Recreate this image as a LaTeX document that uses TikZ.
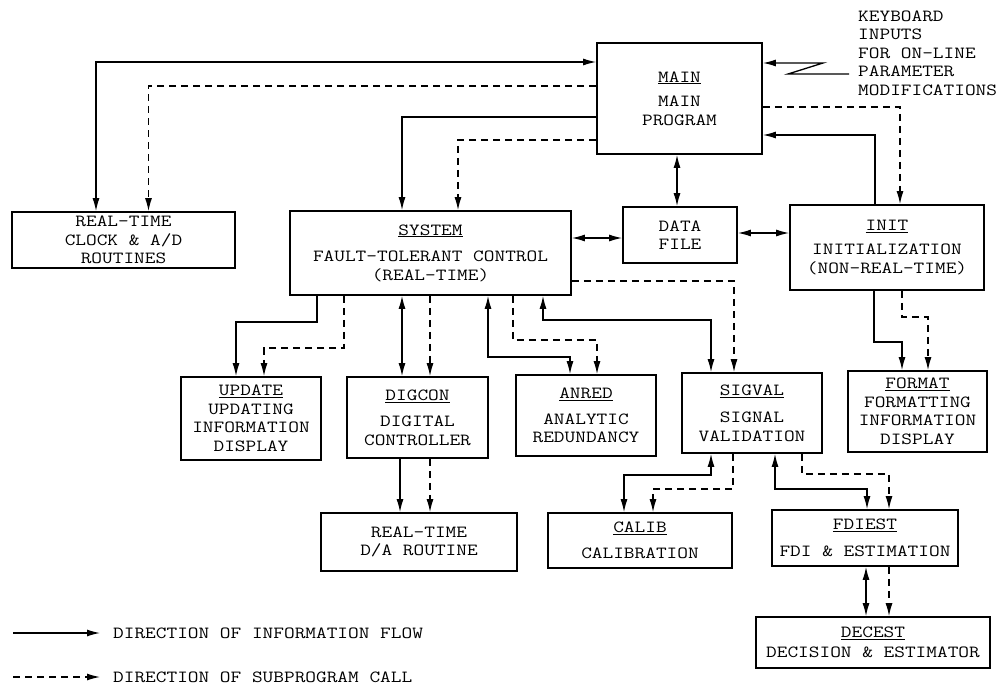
\documentclass[tikz,border=0pt]{standalone}
\usepackage{fontspec}
\newfontfamily\tw[FakeStretch=1.22]{Latin Modern Mono}
\usetikzlibrary{arrows.meta}
\begin{document}
\begin{tikzpicture}[x=1pt,y=-1pt,
  >={Latex[length=13pt,width=7pt]},
  box/.style={draw,line width=1.7pt,inner sep=0pt,align=center,
    font=\tw\fontsize{17}{18.5}\selectfont},
  txt/.style={inner sep=0pt,font=\tw\fontsize{17}{18.5}\selectfont},
  sol/.style={line width=1.3pt},
  dsh/.style={line width=1.3pt,dash pattern=on 7pt off 5pt}]
\useasboundingbox (0,0) rectangle (1000,685);
% boxes
\node[box,minimum width=165pt,minimum height=111pt] (main) at (679.5,98.5)
  {\underline{MAIN}\\[6pt]MAIN\\PROGRAM};
\node[box,minimum width=223pt,minimum height=56pt] (clock) at (123.5,240)
  {REAL-TIME\\CLOCK \& A/D\\ROUTINES};
\node[box,minimum width=281pt,minimum height=84pt] (system) at (430.5,253)
  {\underline{SYSTEM}\\[8pt]FAULT-TOLERANT CONTROL\\(REAL-TIME)};
\node[box,minimum width=114pt,minimum height=56pt] (datafile) at (680,235)
  {DATA\\FILE};
\node[box,minimum width=194pt,minimum height=85pt] (init) at (887,247.5)
  {\underline{INIT}\\[6pt]INITIALIZATION\\(NON-REAL-TIME)};
\node[box,minimum width=140pt,minimum height=83pt] (update) at (251,418.5)
  {\underline{UPDATE}\\UPDATING\\INFORMATION\\DISPLAY};
\node[box,minimum width=141pt,minimum height=81pt] (digcon) at (417.5,417.5)
  {\underline{DIGCON}\\[8pt]DIGITAL\\CONTROLLER};
\node[box,minimum width=140pt,minimum height=81pt] (anred) at (586,415.5)
  {\underline{ANRED}\\[7pt]ANALYTIC\\REDUNDANCY};
\node[box,minimum width=140pt,minimum height=80pt] (sigval) at (752,413)
  {\underline{SIGVAL}\\[9pt]SIGNAL\\VALIDATION};
\node[box,minimum width=139pt,minimum height=81pt] (format) at (917.5,411.5)
  {\underline{FORMAT}\\FORMATTING\\INFORMATION\\DISPLAY};
\node[box,minimum width=196pt,minimum height=58pt] (da) at (419,542)
  {REAL-TIME\\D/A ROUTINE};
\node[box,minimum width=184pt,minimum height=55pt] (calib) at (640,540.5)
  {\underline{CALIB}\\[8pt]CALIBRATION};
\node[box,minimum width=186pt,minimum height=56pt] (fdiest) at (865,538)
  {\underline{FDIEST}\\[8pt]FDI \& ESTIMATION};
\node[box,minimum width=234pt,minimum height=51pt] (decest) at (873,642.5)
  {\underline{DECEST}\\[1pt]DECISION \& ESTIMATOR};
% keyboard text
\node[txt,anchor=west,align=left] (kb) at (858,53)
  {KEYBOARD\\INPUTS\\FOR ON-LINE\\PARAMETER\\MODIFICATIONS};
\coordinate (kz) at (849,74);
\draw[sol,->] (kz) -- (788,74) -- (823,63) -- (main.east |- 0,63);
% main connections
\draw[sol,<->] (main.west |- 0,62) -| (clock.north -| 96,0);
\draw[dsh,->] (main.west |- 0,86) -| (clock.north -| 148.5,0);
\draw[sol,->] (main.west |- 0,117) -| (system.north -| 402,0);
\draw[dsh,->] (main.west |- 0,140) -| (system.north -| 458,0);
\draw[sol,<->] (main.south -| 677,0) -- (datafile.north -| 677,0);
\draw[dsh,->] (main.east |- 0,107) -| (init.north -| 900,0);
\draw[sol,->] (init.north -| 875,0) |- (main.east |- 0,135);
\draw[sol,<->] (system.east |- 0,238) -- (datafile.west |- 0,238);
\draw[sol,<->] (datafile.east |- 0,233) -- (init.west |- 0,233);
% system to lower row
\draw[sol,->] (system.south -| 317,0) -- (317,322) -| (update.north -| 236,0);
\draw[dsh,->] (system.south -| 344,0) -- (344,348) -| (update.north -| 264,0);
\draw[sol,<->] (system.south -| 402,0) -- (digcon.north -| 402,0);
\draw[dsh,->] (system.south -| 430,0) -- (digcon.north -| 430,0);
\draw[sol,<->] (system.south -| 488,0) -- (488,357) -| (anred.north -| 570,0);
\draw[dsh,->] (system.south -| 513,0) -- (513,340) -| (anred.north -| 597,0);
\draw[sol,<->] (system.south -| 543,0) -- (543,320) -| (sigval.north -| 711,0);
\draw[dsh,->] (system.east |- 0,281) -| (sigval.north -| 734,0);
% init to format
\draw[sol,->] (init.south -| 874,0) -- (874,342) -| (format.north -| 902,0);
\draw[dsh,->] (init.south -| 902,0) -- (902,317) -| (format.north -| 928,0);
% digcon to d/a
\draw[sol,->] (digcon.south -| 400,0) -- (da.north -| 400,0);
\draw[dsh,->] (digcon.south -| 430,0) -- (da.north -| 430,0);
% sigval
\draw[sol,<->] (sigval.south -| 711,0) -- (711,475) -| (calib.north -| 624,0);
\draw[dsh,->] (sigval.south -| 733,0) -- (733,489) -| (calib.north -| 653,0);
\draw[sol,<->] (sigval.south -| 775,0) -- (775,489) -| (fdiest.north -| 867,0);
\draw[dsh,->] (sigval.south -| 802,0) -- (802,474) -| (fdiest.north -| 889,0);
% fdiest to decest
\draw[sol,<->] (fdiest.south -| 866,0) -- (decest.north -| 866,0);
\draw[dsh,->] (fdiest.south -| 889,0) -- (decest.north -| 889,0);
% legend
\coordinate (l1a) at (13,633);
\coordinate (l1b) at (100,633);
\coordinate (l2a) at (13,677);
\coordinate (l2b) at (100,677);
\draw[sol,->] (l1a) -- (l1b);
\draw[dsh,->] (l2a) -- (l2b);
\node[txt,anchor=west] (leg1) at (113,633) {DIRECTION OF INFORMATION FLOW};
\node[txt,anchor=west] (leg2) at (113,677) {DIRECTION OF SUBPROGRAM CALL};
\end{tikzpicture}
\end{document}
